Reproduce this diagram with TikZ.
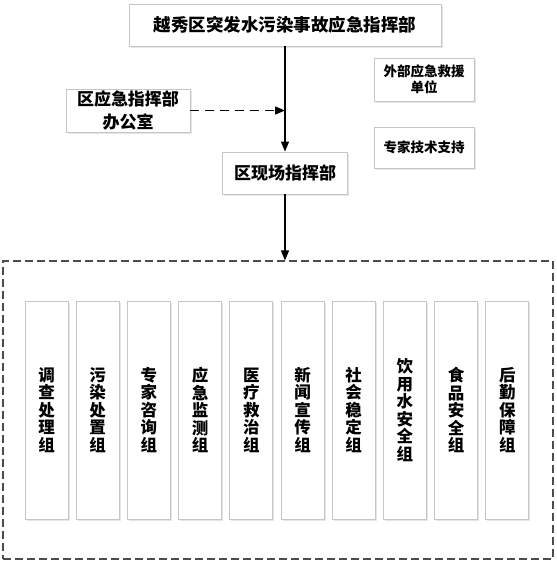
\documentclass[tikz,border=0pt]{standalone}
\usepackage{fontspec}
\setmainfont{Noto Sans CJK SC}
\usetikzlibrary{arrows.meta,shadows}

\tikzset{
  unit/.style={draw=gray!45, fill=white, line width=0.8pt, align=center, inner sep=0pt,
    drop shadow={opacity=0.2, shadow xshift=1.5pt, shadow yshift=-1.5pt},
    font=\bfseries\fontsize{17}{23}\selectfont},
  small/.style={unit, minimum width=100pt, font=\bfseries\fontsize{13.5}{16}\selectfont},
  group/.style={unit, minimum width=43pt, minimum height=218pt,
    font=\bfseries\fontsize{16.5}{17.5}\selectfont},
  link/.style={-{Triangle[length=10pt,width=8pt]}, line width=1.1pt},
}

\begin{document}
\begin{tikzpicture}[x=1pt,y=-1pt]
  \useasboundingbox (0,0) rectangle (557,563);
  % command levels
  \node[unit, minimum width=312pt, minimum height=42pt, font=\bfseries\fontsize{17.5}{20}\selectfont] (chief) at (285,25) {越秀区突发水污染事故应急指挥部};
  \node[unit, minimum width=124pt, minimum height=43pt] (office) at (128,110.5) {区应急指挥部\\办公室};
  \node[small, minimum height=43pt] (rescue) at (424,79.5) {外部应急救援\\单位};
  \node[small, minimum height=41pt] (expert) at (424,147.5) {专家技术支持};
  \node[unit, minimum width=125pt, minimum height=42pt] (scene) at (285,173) {区现场指挥部};
  % working groups
  \node[draw=black!70, dash pattern=on 8pt off 4pt, line width=1.1pt,
    minimum width=550pt, minimum height=298pt] (teams) at (278,410) {};
  \foreach \name [count=\i from 0] in {调\\查\\处\\理\\组, 污\\染\\处\\置\\组, 专\\家\\咨\\询\\组,
      应\\急\\监\\测\\组, 医\\疗\\救\\治\\组, 新\\闻\\宣\\传\\组, 社\\会\\稳\\定\\组,
      饮\\用\\水\\安\\全\\组, 食\\品\\安\\全\\组, 后\\勤\\保\\障\\组}
    \node[group] (g\i) at ({46.5+51.2*\i},410) {\name};

  \draw[link] (chief.south) -- (scene.north);
  \draw[link, line width=1.4pt, dash pattern=on 9pt off 6pt] (office.east) -- (office.east -| chief.south);
  \draw[link] (scene.south) -- (scene.south |- teams.north);
\end{tikzpicture}
\end{document}
